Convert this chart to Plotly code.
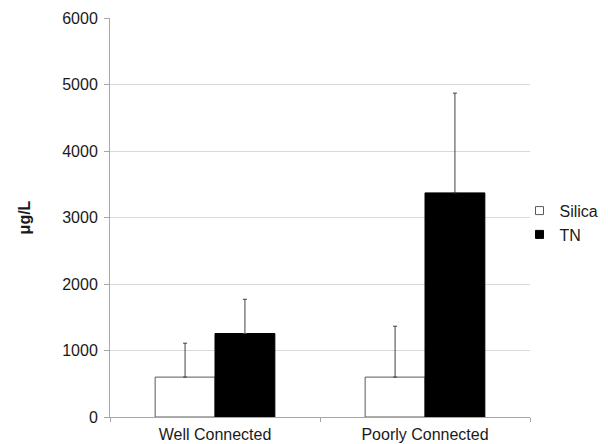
import plotly.graph_objects as go

categories = ["Well Connected", "Poorly Connected"]
silica_values = [600, 600]
silica_err_plus = [510, 765]
tn_values = [1255, 3370]
tn_err_plus = [515, 1500]
y_ticks = [0, 1000, 2000, 3000, 4000, 5000, 6000]

FONT = "Liberation Sans, Arial, sans-serif"
SILICA_FILL, SILICA_EDGE = "white", "#595959"
TN_FILL = "black"

fig = go.Figure()
fig.add_trace(go.Bar(
    name="Silica", x=categories, y=silica_values, showlegend=False,
    marker=dict(color=SILICA_FILL, line=dict(color=SILICA_EDGE, width=1)),
    error_y=dict(type="data", symmetric=False, array=silica_err_plus,
                 arrayminus=[0, 0], color="#404040", thickness=1, width=2),
))
fig.add_trace(go.Bar(
    name="TN", x=categories, y=tn_values, showlegend=False,
    marker=dict(color=TN_FILL, line=dict(color=TN_FILL, width=1)),
    error_y=dict(type="data", symmetric=False, array=tn_err_plus,
                 arrayminus=[0, 0], color="#404040", thickness=1, width=2),
))
# legend entries with small square symbols
fig.add_trace(go.Scatter(
    name="Silica", x=[None], y=[None], mode="markers",
    marker=dict(symbol="square", size=8, color=SILICA_FILL,
                line=dict(color=SILICA_EDGE, width=1)),
))
fig.add_trace(go.Scatter(
    name="TN", x=[None], y=[None], mode="markers",
    marker=dict(symbol="square", size=8, color=TN_FILL,
                line=dict(color=TN_FILL, width=1)),
))

# page body has an 8px margin, so the figure is 8px smaller than the window
fig.update_layout(
    width=600, height=436,
    margin=dict(l=102, r=78, t=10, b=27, autoexpand=False),
    paper_bgcolor="white", plot_bgcolor="white",
    barmode="group", bargap=0.43, bargroupgap=0,
    font=dict(family=FONT, size=16, color="#1a1a1a"),
    legend=dict(x=0.975, y=0.487, xanchor="left", yanchor="middle",
                font=dict(size=16), tracegroupgap=0,
                bgcolor="rgba(0,0,0,0)"),
    showlegend=True,
)
fig.update_xaxes(
    type="category",
    showline=True, linecolor="#a6a6a6", linewidth=1,
    ticks="outside", tickson="boundaries", ticklen=4, tickcolor="#a6a6a6",
    showgrid=False, tickfont=dict(size=16), ticklabelstandoff=3,
)
fig.update_yaxes(
    range=[0, 6000], tickvals=y_ticks, ticktext=[str(v) for v in y_ticks],
    showline=True, linecolor="#a6a6a6", linewidth=1,
    ticks="outside", ticklen=5, tickcolor="#a6a6a6",
    showgrid=True, gridcolor="#d9d9d9", gridwidth=1,
    zeroline=False, tickfont=dict(size=16), ticklabelstandoff=3,
    title=dict(text="<b>μg/L</b>", font=dict(size=16), standoff=27),
)

fig.write_html("out.html")
